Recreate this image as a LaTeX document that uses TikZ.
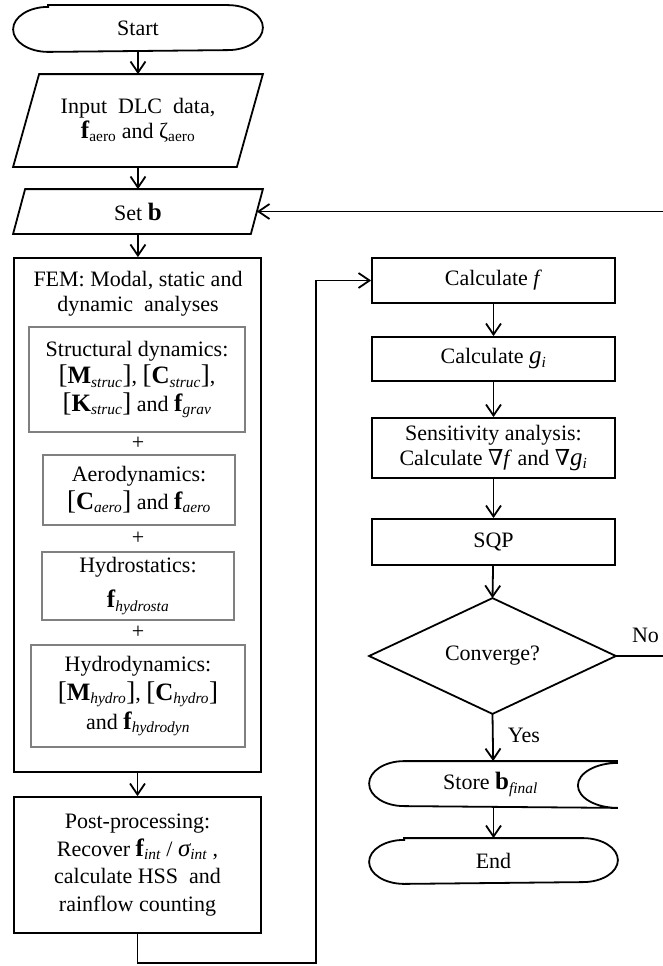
\documentclass[tikz,border=0pt]{standalone}
\usepackage{fontspec}
\setmainfont{Liberation Serif}
\newfontfamily\nablafont{DejaVu Serif}
\usetikzlibrary{arrows.meta,calc}
\newcommand{\bvec}[1]{{\fontsize{25}{25}\selectfont\textbf{#1}}}
\newcommand{\brk}[1]{{\fontsize{27}{25}\selectfont #1}}
\newcommand{\isub}[1]{\textsubscript{\itshape #1}}
\newcommand{\rsub}[1]{\textsubscript{#1}}
\begin{document}
\begin{tikzpicture}[x=1pt,y=-1pt,line width=1.8pt,
  txt/.style={font=\fontsize{22}{25}\selectfont,align=center,inner sep=0pt},
  blk/.style={txt,draw,line width=1.8pt},
  gbox/.style={txt,draw=black!50,line width=1.8pt},
  conn/.style={-{Straight Barb[length=11pt,width=15pt]}},
  plain/.style={line width=1.8pt}]
\useasboundingbox (0,0) rectangle (663,966);

% ---------- left column ----------
\node[txt,minimum width=248pt,minimum height=45pt] (start) at (138,28.5) {Start};
\draw[plain] ($(start.north west)+(35,0)$) -- ($(start.north east)+(-35,0)$)
  arc[start angle=-90,end angle=90,x radius=35,y radius=22.5]
  -- ($(start.south west)+(35,0)$)
  arc[start angle=90,end angle=270,x radius=35,y radius=22.5] -- cycle;

\node[txt,minimum width=248pt,minimum height=91pt] (input) at (138,120.5) {Input\ \ DLC\ \ data,\\\bvec{f}\rsub{aero} and ζ\rsub{aero}};
\draw[plain] ($(input.north west)+(26,0)$) -- (input.north east)
  -- ($(input.south east)+(-26,0)$) -- (input.south west) -- cycle;

\node[txt,minimum width=248pt,minimum height=43pt] (setb) at (138,211.5) {Set \bvec{b}};
\draw[plain] ($(setb.north west)+(12,0)$) -- (setb.north east)
  -- ($(setb.south east)+(-12,0)$) -- (setb.south west) -- cycle;
\coordinate (setbr) at ($(setb.east)+(-6,0)$);

\node[blk,minimum width=247pt,minimum height=514pt] (fem) at (137.5,515) {};
\node[txt] (femt) at (138,293.5) {FEM: Modal, static and\\dynamic\ \ analyses};

\node[gbox,minimum width=216pt,minimum height=105pt,font=\fontsize{22}{27.5}\selectfont] (strd) at (137,379.5)
  {Structural dynamics:\\\brk{[}\bvec{M}\isub{struc}\brk{]}, \brk{[}\bvec{C}\isub{struc}\brk{]},\\\brk{[}\bvec{K}\isub{struc}\brk{]} and \bvec{f}\isub{grav}};
\node[txt] (p1) at (138,443.5) {+};
\node[gbox,minimum width=192pt,minimum height=70pt,font=\fontsize{22}{28}\selectfont] (aero) at (139,490)
  {Aerodynamics:\\\brk{[}\bvec{C}\isub{aero}\brk{]} and \bvec{f}\isub{aero}};
\node[txt] (p2) at (138,538.5) {+};
\node[gbox,minimum width=192pt,minimum height=68pt,font=\fontsize{22}{35}\selectfont] (hsta) at (138,586)
  {Hydrostatics:\\\bvec{f}\isub{hydrosta}};
\node[txt] (p3) at (138,632.5) {+};
\node[gbox,minimum width=214pt,minimum height=102pt,font=\fontsize{22}{29}\selectfont] (hdyn) at (138,696)
  {Hydrodynamics:\\\brk{[}\bvec{M}\isub{hydro}\brk{]}, \brk{[}\bvec{C}\isub{hydro}\brk{]}\\and \bvec{f}\isub{hydrodyn}};

\node[blk,minimum width=247pt,minimum height=136pt,font=\fontsize{22}{27.5}\selectfont] (post) at (137.5,865)
  {Post-processing:\\Recover \bvec{f}\isub{int} / {\fontsize{25}{25}\selectfont\itshape σ}\isub{int} ,\\calculate HSS\ \ and\\rainflow counting};

% ---------- right column ----------
\node[blk,minimum width=243pt,minimum height=45pt] (calcf) at (493.5,280.5) {Calculate \textit{f}};
\node[blk,minimum width=243pt,minimum height=44pt] (calcg) at (493.5,359) {Calculate {\fontsize{25}{25}\selectfont\itshape g}\isub{i}};
\node[blk,minimum width=243pt,minimum height=60pt] (sens) at (493.5,448)
  {Sensitivity analysis:\\Calculate {\nablafont ∇}\textit{f} and {\nablafont ∇}{\fontsize{25}{25}\selectfont\itshape g}\isub{i}};
\node[blk,minimum width=243pt,minimum height=46pt] (sqp) at (493.5,542) {SQP};

\node[txt,minimum width=245pt,minimum height=114pt] (conv) at (492.5,656) {Converge?};
\draw[plain] (conv.north) -- (conv.east) -- (conv.south) -- (conv.west) -- cycle;

\node[txt,minimum width=247pt,minimum height=45pt] (store) at (493.5,784.5) {Store \bvec{b}\isub{final}\hspace*{6pt}};
\draw[plain] (store.north east) -- ($(store.north west)+(35,0)$)
  arc[start angle=-90,end angle=-270,x radius=35,y radius=22.5]
  -- (store.south east)
  arc[start angle=90,end angle=270,x radius=40,y radius=22.5];

\node[txt,minimum width=247pt,minimum height=44pt] (stop) at (493.5,861) {End};
\draw[plain] ($(stop.north west)+(35,0)$) -- ($(stop.north east)+(-35,0)$)
  arc[start angle=-90,end angle=90,x radius=35,y radius=22]
  -- ($(stop.south west)+(35,0)$)
  arc[start angle=90,end angle=270,x radius=35,y radius=22] -- cycle;

\node[txt,anchor=west] (yes) at (507,735) {Yes};
\node[txt] (no) at (645.5,635) {No};

% ---------- connectors ----------
\draw[conn] (start) -- (input);
\draw[conn] (input) -- (setb);
\draw[conn] (setb) -- (fem);
\draw[conn] (fem) -- (post);
\draw[conn] (calcf) -- (calcg);
\draw[conn] (calcg) -- (sens);
\draw[conn] (sens) -- (sqp);
\draw[conn] (sqp) -- (conv.north);
\draw[conn] (conv.south) -- (store);
\draw[conn] (store) -- (stop);
\coordinate (lb) at (137.5,963);
\coordinate (rb) at (316,963);
\coordinate (rt) at (316,280.5);
\draw[conn] (post.south) -- (lb) -- (rb) -- (rt) -- (calcf.west);
\coordinate (n1) at (667,656);
\coordinate (n2) at (667,211.5);
\draw[conn] (conv.east) -- (n1) -- (n2) -- (setbr);
\end{tikzpicture}
\end{document}
